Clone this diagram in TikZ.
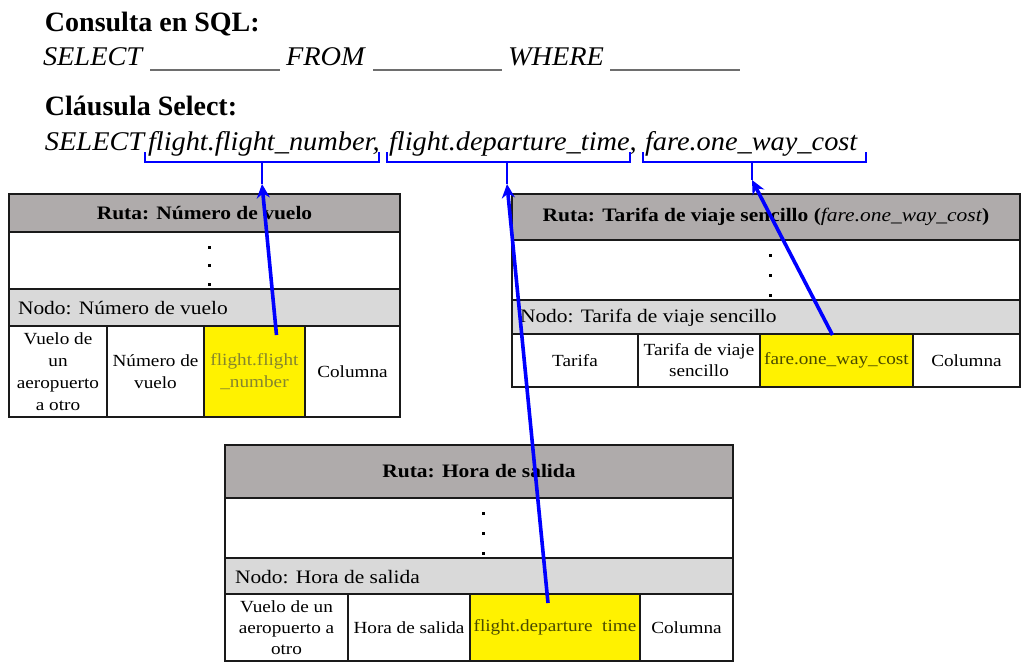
\documentclass[tikz,border=0pt]{standalone}
\usepackage{fontspec}
\setmainfont{Liberation Serif}
\newfontfamily\tfont[FakeStretch=1.13]{Liberation Serif}
\newfontfamily\ifont[FakeStretch=1.05]{Liberation Serif}
\usetikzlibrary{arrows.meta}
\definecolor{hdrgray}{HTML}{AFABAB}
\definecolor{nodogray}{HTML}{D9D9D9}
\definecolor{bord}{HTML}{1A1A1A}
\definecolor{ulgray}{HTML}{6E6E6E}
\definecolor{olive1}{HTML}{85852E}
\definecolor{olive2}{HTML}{4A4A00}
\definecolor{linkblue}{HTML}{0000FF}
\begin{document}
\begin{tikzpicture}[x=1pt,y=-1pt,
  every node/.style={inner sep=0pt, outer sep=0pt},
  ttl/.style={anchor=base west, font=\bfseries\fontsize{28}{30}\selectfont},
  sel/.style={anchor=base west, font=\ifont\itshape\fontsize{27}{30}\selectfont},
  cell/.style={draw=bord, line width=1.6pt, anchor=north west, align=center,
    font=\tfont\fontsize{17}{21}\selectfont},
  hdr/.style={cell, fill=hdrgray, font=\tfont\bfseries\fontsize{19}{22}\selectfont},
  blank/.style={cell, fill=white},
  nodorow/.style={cell, fill=nodogray},
  nodotxt/.style={anchor=west, font=\tfont\fontsize{19}{22}\selectfont},
  ycell/.style={cell, fill=yellow},
  dotmark/.style={fill=black, minimum size=3pt, inner sep=0pt},
  brace/.style={draw=linkblue, line width=2.8pt},
  link/.style={draw=linkblue, line width=3.6pt, -{Stealth[length=14pt,width=13pt]}},
  ul/.style={draw=ulgray, line width=2pt}
]
\useasboundingbox (0,0) rectangle (1021,665);
\fill[white] (0,0) rectangle (1021,665);

% ---- Heading texts
\node[ttl] (t1) at (45,31) {Consulta en SQL:};
\node[sel] (s1) at (43,65) {SELECT};
\node[sel] (s2) at (286,65) {FROM};
\node[sel] (s3) at (508,65) {WHERE};
\coordinate (u1a) at (150,70); \coordinate (u1b) at (280,70);
\coordinate (u2a) at (373,70); \coordinate (u2b) at (502,70);
\coordinate (u3a) at (610,70); \coordinate (u3b) at (740,70);
\draw[ul] (u1a) -- (u1b);
\draw[ul] (u2a) -- (u2b);
\draw[ul] (u3a) -- (u3b);
\node[ttl] (t2) at (45,115) {Cláusula Select:};
\node[sel] (c0) at (45,150) {SELECT};
\node[sel] (c1) at (148,150) {flight.flight\_number,};
\node[sel] (c2) at (389,150) {flight.departure\_time,};
\node[sel] (c3) at (645,150) {fare.one\_way\_cost};

% ---- Brackets
\draw[brace] (145,152) -- (145,162) -- (379,162) -- (379,152);
\draw[brace] (387,152) -- (387,162) -- (630,162) -- (630,152);
\draw[brace] (643,152) -- (643,162) -- (866,162) -- (866,152);
\coordinate (b1) at (262,162); \coordinate (e1) at (262,184);
\coordinate (b2) at (507,162); \coordinate (e2) at (507,184);
\coordinate (b3) at (752,162); \coordinate (e3) at (752,180);
\draw[brace] (b1) -- (e1);
\draw[brace] (b2) -- (e2);
\draw[brace] (b3) -- (e3);

% ---- Table 1
\node[hdr, minimum width=391pt, minimum height=38pt] (h1) at (9,194) {Ruta: Número de vuelo};
\node[blank, minimum width=391pt, minimum height=57pt] (w1) at (9,232) {};
\node[dotmark] (d1a) at (209,247) {};
\node[dotmark] (d1b) at (209,265) {};
\node[dotmark] (d1c) at (209,284) {};
\node[nodorow, minimum width=391pt, minimum height=37pt] (n1) at (9,289) {};
\node[nodotxt] (n1t) at (18,308) {Nodo: Número de vuelo};
\node[cell, minimum width=98pt, minimum height=91pt, font=\tfont\fontsize{17}{22}\selectfont] (a1) at (9,326) {Vuelo de\\un\\aeropuerto\\a otro};
\node[cell, minimum width=97pt, minimum height=91pt, font=\tfont\fontsize{17}{22}\selectfont] (a2) at (107,326) {Número de\\vuelo};
\node[ycell, minimum width=101pt, minimum height=91pt, text=olive1, font=\tfont\fontsize{17}{22}\selectfont] (a3) at (204,326) {flight.flight\\\_number};
\node[cell, minimum width=95pt, minimum height=91pt] (a4) at (305,326) {Columna};

% ---- Table 2
\node[hdr, minimum width=508pt, minimum height=46pt] (h2) at (512,194) {Ruta: Tarifa de viaje sencillo (\textmd{\textit{fare.one\_way\_cost}})};
\node[blank, minimum width=508pt, minimum height=60pt] (w2) at (512,240) {};
\node[dotmark] (d2a) at (770,255) {};
\node[dotmark] (d2b) at (770,275) {};
\node[dotmark] (d2c) at (770,295) {};
\node[nodorow, minimum width=508pt, minimum height=34pt] (n2) at (512,300) {};
\node[nodotxt] (n2t) at (520,318) {Nodo: Tarifa de viaje sencillo};
\node[cell, minimum width=126pt, minimum height=53pt] (b21) at (512,334) {Tarifa};
\node[cell, minimum width=122pt, minimum height=53pt] (b22) at (638,334) {Tarifa de viaje\\sencillo};
\node[ycell, minimum width=153pt, minimum height=53pt, text=olive2] (b23) at (760,334) {fare.one\_way\_cost};
\node[cell, minimum width=107pt, minimum height=53pt] (b24) at (913,334) {Columna};

% ---- Table 3
\node[hdr, minimum width=508pt, minimum height=53pt] (h3) at (225,445) {Ruta: Hora de salida};
\node[blank, minimum width=508pt, minimum height=60pt] (w3) at (225,498) {};
\node[dotmark] (d3a) at (483,513) {};
\node[dotmark] (d3b) at (483,533) {};
\node[dotmark] (d3c) at (483,553) {};
\node[nodorow, minimum width=508pt, minimum height=36pt] (n3) at (225,558) {};
\node[nodotxt] (n3t) at (235,577) {Nodo: Hora de salida};
\node[cell, minimum width=123pt, minimum height=67pt] (c31) at (225,594) {Vuelo de un\\aeropuerto a\\otro};
\node[cell, minimum width=122pt, minimum height=67pt] (c32) at (348,594) {Hora de salida};
\node[ycell, minimum width=170pt, minimum height=67pt, text=olive2] (c33) at (470,594) {flight.departure\ \ time};
\node[cell, minimum width=93pt, minimum height=67pt] (c34) at (640,594) {Columna};

% ---- Links
\draw[link] ([xshift=22pt,yshift=-9pt]a3.north) -- (e1);
\draw[link] ([xshift=-7pt,yshift=-9pt]c33.north) -- (e2);
\draw[link] ([xshift=-4pt,yshift=-1pt]b23.north) -- (e3);
\end{tikzpicture}
\end{document}
